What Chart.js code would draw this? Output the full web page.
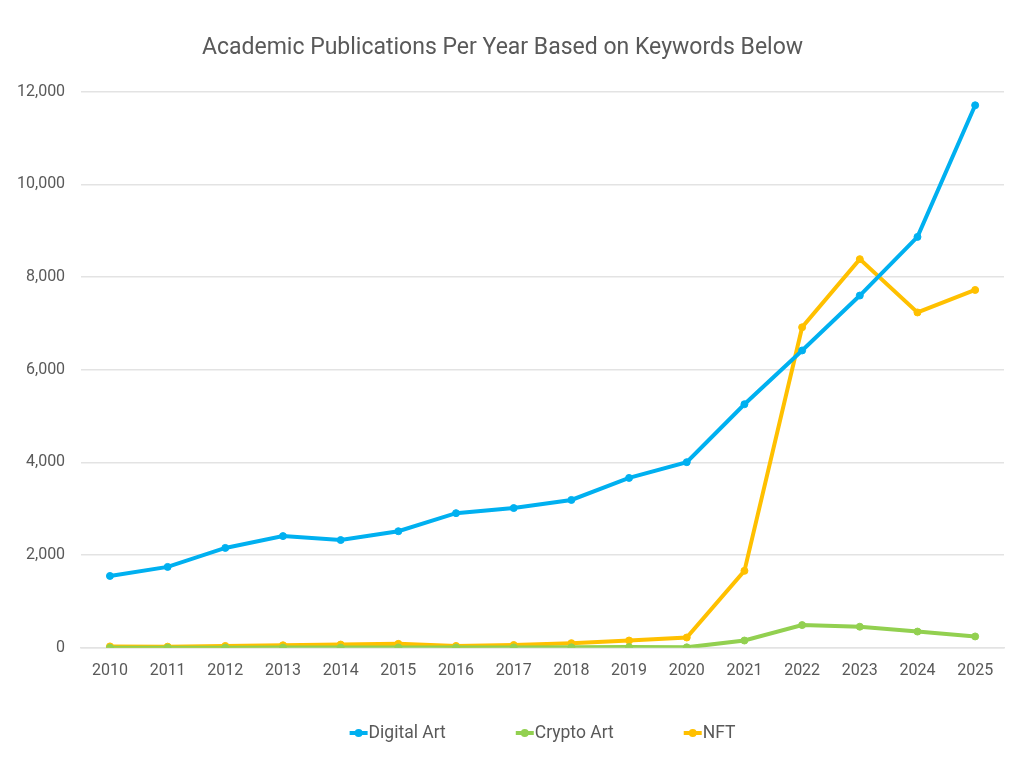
<!DOCTYPE html>
<html>
<head>
<meta charset="utf-8">
<script src="https://cdn.jsdelivr.net/npm/chart.js@4.4.1/dist/chart.umd.min.js"></script>
<style>
  html,body{margin:0;padding:0;background:#fff;}
  #wrap{width:1024px;height:768px;position:relative;}
</style>
</head>
<body>
<div id="wrap"><canvas id="c" width="1024" height="768"></canvas></div>
<script>
const years = ['2010','2011','2012','2013','2014','2015','2016','2017','2018','2019','2020','2021','2022','2023','2024','2025'];
const digitalArt = [1550, 1745, 2155, 2410, 2325, 2515, 2905, 3015, 3190, 3665, 4005, 5255, 6415, 7600, 8865, 11705];
const cryptoArt  = [2, 3, 3, 4, 5, 6, 5, 8, 10, 15, 10, 157, 490, 455, 350, 245];
const nft        = [30, 25, 40, 55, 70, 85, 40, 60, 100, 157, 222, 1660, 6915, 8385, 7235, 7720];
const seriesNames = ['Digital Art', 'Crypto Art', 'NFT'];
const yTicks = [0, 2000, 4000, 6000, 8000, 10000, 12000];
const titleText = 'Academic Publications Per Year Based on Keywords Below';

const colors = ['#00B0F0', '#92D050', '#FFC000'];
const textColor = '#595959';
const fontFam = "'Roboto', 'Liberation Sans', sans-serif";

function ds(label, data, color){
  return {
    label, data,
    borderColor: color, backgroundColor: color,
    pointBackgroundColor: color, pointBorderColor: color,
    borderWidth: 4, pointRadius: 3.5, pointBorderWidth: 1, pointHoverRadius: 3.5,
    tension: 0, fill: false
  };
}

// Excel-style bottom legend: line with dot, wide spacing, centred on plot area
const excelLegend = {
  id: 'excelLegend',
  afterDraw(chart){
    const ctx = chart.ctx;
    const y = 733;
    const markerW = 18, gap = 1, itemGap = 70;
    ctx.save();
    ctx.font = "17.5px " + fontFam;
    ctx.textBaseline = 'middle';
    const items = chart.data.datasets.map(d => ({label: d.label, color: d.borderColor, w: ctx.measureText(d.label).width}));
    const total = items.reduce((s, it) => s + markerW + gap + it.w, 0) + itemGap * (items.length - 1);
    const cx = (chart.chartArea.left + chart.chartArea.right) / 2;
    let x = cx - total / 2;
    items.forEach(it => {
      ctx.strokeStyle = it.color; ctx.lineWidth = 4; ctx.lineCap = 'butt';
      ctx.beginPath(); ctx.moveTo(x, y); ctx.lineTo(x + markerW, y); ctx.stroke();
      ctx.fillStyle = it.color;
      ctx.beginPath(); ctx.arc(x + markerW / 2, y, 4, 0, Math.PI * 2); ctx.fill();
      ctx.fillStyle = textColor;
      ctx.fillText(it.label, x + markerW + gap, y + 1);
      x += markerW + gap + it.w + itemGap;
    });
    ctx.restore();
  }
};

new Chart(document.getElementById('c'), {
  type: 'line',
  data: {
    labels: years,
    datasets: [
      ds(seriesNames[0], digitalArt, colors[0]),
      ds(seriesNames[1], cryptoArt, colors[1]),
      ds(seriesNames[2], nft, colors[2])
    ]
  },
  options: {
    responsive: false,
    animation: false,
    layout: { padding: { left: 1, right: 20, top: 22, bottom: 73 } },
    plugins: {
      title: {
        display: true, text: titleText, color: textColor,
        font: { family: fontFam, size: 23, weight: 'normal' },
        padding: { top: 12, bottom: 30 }
      },
      legend: { display: false },
      tooltip: { enabled: false }
    },
    scales: {
      x: {
        offset: true,
        grid: { display: false, drawTicks: false },
        border: { display: true, color: '#e3e3e3', width: 1.5 },
        ticks: { color: textColor, font: { family: fontFam, size: 16 }, padding: 14 }
      },
      y: {
        min: 0, max: 12000,
        afterBuildTicks(axis){ axis.ticks = yTicks.map(v => ({ value: v })); },
        grid: { color: '#e3e3e3', lineWidth: 1.5, drawTicks: false },
        border: { display: false },
        ticks: {
          color: textColor, font: { family: fontFam, size: 16 }, padding: 16,
          callback: v => v.toLocaleString('en-US')
        }
      }
    }
  },
  plugins: [excelLegend]
});
</script>
</body>
</html>
